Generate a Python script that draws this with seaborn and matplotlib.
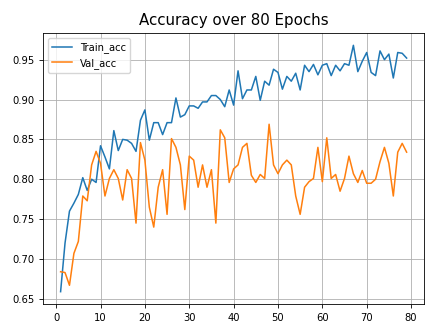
import matplotlib
matplotlib.use("Agg")
import matplotlib.pyplot as plt
import seaborn as sns
import pandas as pd
import numpy as np

epochs = list(range(1, 80))

train_acc = [
    0.659, 0.720, 0.760, 0.770, 0.781, 0.802, 0.786, 0.800, 0.796, 0.842,
    0.828, 0.813, 0.861, 0.836, 0.850, 0.849, 0.845, 0.835, 0.874, 0.887,
    0.849, 0.871, 0.871, 0.856, 0.871, 0.871, 0.902, 0.878, 0.881, 0.892,
    0.892, 0.889, 0.897, 0.897, 0.905, 0.905, 0.900, 0.891, 0.912, 0.893,
    0.936, 0.901, 0.912, 0.912, 0.929, 0.899, 0.923, 0.918, 0.938, 0.934,
    0.913, 0.929, 0.923, 0.933, 0.912, 0.943, 0.935, 0.944, 0.931, 0.943,
    0.945, 0.930, 0.943, 0.936, 0.945, 0.943, 0.968, 0.935, 0.948, 0.959,
    0.934, 0.930, 0.961, 0.950, 0.957, 0.927, 0.959, 0.958, 0.952,
]

val_acc = [
    0.684, 0.683, 0.667, 0.707, 0.722, 0.779, 0.773, 0.818, 0.835, 0.820,
    0.779, 0.801, 0.812, 0.801, 0.774, 0.812, 0.801, 0.745, 0.846, 0.824,
    0.765, 0.740, 0.790, 0.812, 0.756, 0.851, 0.840, 0.818, 0.762, 0.829,
    0.824, 0.790, 0.818, 0.790, 0.812, 0.745, 0.862, 0.852, 0.796, 0.813,
    0.818, 0.840, 0.845, 0.805, 0.796, 0.806, 0.801, 0.869, 0.818, 0.807,
    0.818, 0.824, 0.818, 0.779, 0.756, 0.790, 0.797, 0.801, 0.840, 0.797,
    0.852, 0.801, 0.806, 0.785, 0.801, 0.829, 0.807, 0.796, 0.811, 0.795,
    0.795, 0.800, 0.822, 0.840, 0.820, 0.779, 0.834, 0.845, 0.834,
]

title = "Accuracy over 80 Epochs"
series_names = ["Train_acc", "Val_acc"]

df = pd.DataFrame({
    "epoch": epochs * 2,
    "acc": train_acc + val_acc,
    "series": [series_names[0]] * len(epochs) + [series_names[1]] * len(epochs),
})

plt.rcParams["font.family"] = ["DejaVu Sans"]
fig = plt.figure(figsize=(4.36, 3.31), dpi=100)
ax = fig.add_axes([0.0993, 0.0816, 0.873, 0.8187])

sns.lineplot(data=df, x="epoch", y="acc", hue="series",
             palette=["#1f77b4", "#ff7f0e"], linewidth=1.1, ax=ax)

ax.set_title(title, fontsize=10.8)
ax.set_xlabel("")
ax.set_ylabel("")
ax.set_xticks(range(0, 81, 10))
ax.set_yticks([0.65, 0.70, 0.75, 0.80, 0.85, 0.90, 0.95])
ax.tick_params(labelsize=7.2, length=2.8, width=0.6)
ax.grid(True, color="#b0b0b0", linewidth=0.6)
for s in ax.spines.values():
    s.set_linewidth(0.6)
leg = ax.legend(loc="upper left", fontsize=7.2, framealpha=0.8, edgecolor="#cccccc")

fig.savefig("out.png", dpi=100)
